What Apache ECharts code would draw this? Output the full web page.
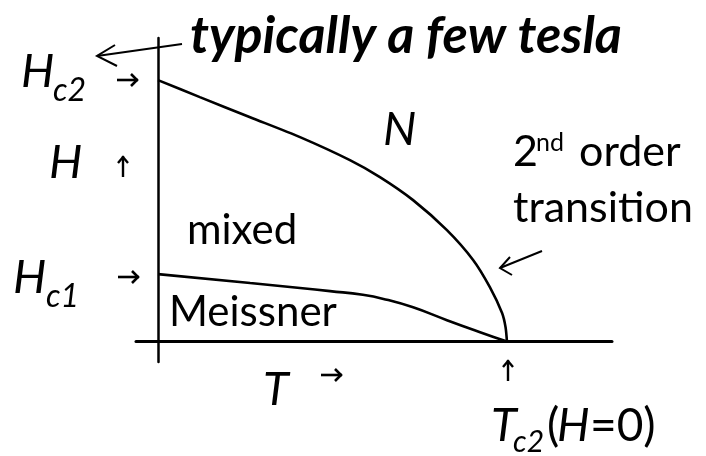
<!DOCTYPE html>
<html><head><meta charset="utf-8">
<script src="https://cdn.jsdelivr.net/npm/echarts@6/dist/echarts.min.js"></script>
<style>html,body{margin:0;padding:0;background:#fff}#c{width:706px;height:456px}</style>
</head><body><div id="c"></div>
<script>
// Upper critical field curve Hc2(T), T in units of Tc, H in units of Hc2(0)
const hc2T = [0, 0.120, 0.264, 0.407, 0.550, 0.636, 0.731, 0.828, 0.903, 0.951, 0.986, 0.996, 1.0];
const hc2H = [1.0, 0.935, 0.858, 0.782, 0.694, 0.629, 0.541, 0.426, 0.312, 0.208, 0.109, 0.055, 0];
// Lower critical field curve Hc1(T)
const hc1T = [0, 0.264, 0.407, 0.493, 0.587, 0.656, 0.731, 0.828, 0.923, 1.0];
const hc1H = [0.258, 0.224, 0.205, 0.193, 0.179, 0.160, 0.131, 0.082, 0.036, 0];
// Axis range
const tRange = [-0.063, 1.301];
const hRange = [-0.078, 1.161];

const pair = (a, b) => a.map((v, i) => [v, b[i]]);
const chart = echarts.init(document.getElementById('c'));

const F = 'Lato, "Open Sans", sans-serif';
const txt = (text, x, y, font) => ({
  type: 'text', x: x, y: y,
  style: {text: text, font: font, fill: '#000', textAlign: 'left', textVerticalAlign: 'middle', align: 'left', verticalAlign: 'middle'}
});
const reg = s => s + 'px ' + F;
const ita = s => 'italic ' + s + 'px ' + F;
const line = (pts, w) => ({type: 'polyline', shape: {points: pts}, style: {stroke: '#000', lineWidth: w || 2, fill: null}});
// small arrows
const arrowR = (x, y) => [line([[x, y], [x + 21, y]], 2.6), line([[x + 14, y - 6], [x + 20, y], [x + 14, y + 6]], 2.6)];
const arrowU = (x, y) => [line([[x, y + 21], [x, y]], 2.4), line([[x - 5, y + 7], [x, y + 1], [x + 5, y + 7]], 2.4)];

chart.setOption({
  animation: false,
  grid: {left: 136, right: 94, top: 38, bottom: 94},
  xAxis: {type: 'value', min: tRange[0], max: tRange[1],
    axisLine: {onZero: true, lineStyle: {color: '#000', width: 3}},
    axisTick: {show: false}, axisLabel: {show: false}, splitLine: {show: false}},
  yAxis: {type: 'value', min: hRange[0], max: hRange[1],
    axisLine: {show: true, onZero: true, lineStyle: {color: '#000', width: 2.5}},
    axisTick: {show: false}, axisLabel: {show: false}, splitLine: {show: false}},
  series: [
    {type: 'line', data: pair(hc2T, hc2H), smooth: 0.25, symbol: 'none',
      lineStyle: {color: '#000', width: 2.6}},
    {type: 'line', data: pair(hc1T, hc1H), smooth: 0.5, symbol: 'none',
      lineStyle: {color: '#000', width: 2.6}}
  ],
  graphic: [
    txt('typically a few tesla', 190, 36, 'bold italic 52px ' + F),
    line([[182, 44], [97, 56]], 2),
    line([[115, 45], [97, 56], [117, 66]], 2),
    txt('H', 21, 72, ita(47)),
    txt('c2', 53, 91, ita(32)),
    ...arrowR(117, 80),
    txt('H', 49, 163, ita(47)),
    ...arrowU(123, 156),
    txt('H', 13, 278, ita(47)),
    txt('c1', 46, 297, ita(32)),
    ...arrowR(118, 277),
    txt('N', 383, 130, ita(47)),
    txt('2', 513, 152, reg(43)),
    txt('nd', 536, 143, reg(25)),
    txt('order', 579, 152, reg(43)),
    txt('transition', 513, 208, reg(43)),
    line([[542, 251], [500, 268]], 2),
    line([[510, 257], [500, 268], [512, 275]], 2),
    txt('mixed', 187, 230, reg(42)),
    txt('Meissner', 169, 312, reg(42)),
    txt('T', 263, 390, ita(47)),
    ...arrowR(321, 375),
    ...arrowU(508, 360),
    txt('T', 491, 426, ita(47)),
    txt('c2', 513, 442, ita(30)),
    txt('(', 547, 426, reg(46)),
    txt('H', 557, 426, ita(46)),
    txt('=0)', 590, 426, reg(46))
  ]
});
</script></body></html>
